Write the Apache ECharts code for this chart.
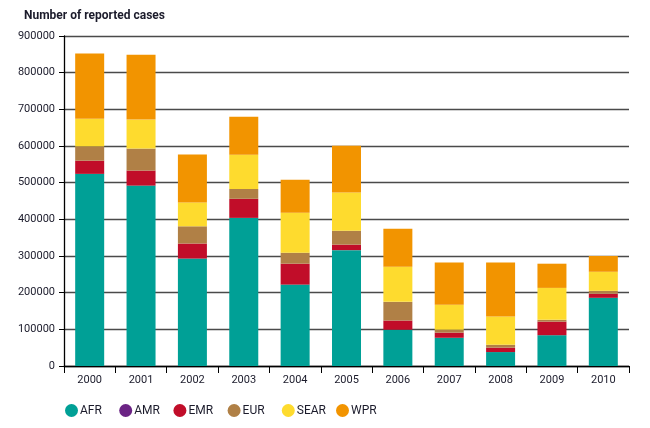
<!DOCTYPE html>
<html>
<head>
<meta charset="utf-8">
<script src="https://cdn.jsdelivr.net/npm/echarts@6/dist/echarts.min.js"></script>
<style>
html,body{margin:0;padding:0;background:#fff;}
#chart{width:650px;height:428px;}
</style>
</head>
<body>
<div id="chart"></div>
<script>
var years = ['2000','2001','2002','2003','2004','2005','2006','2007','2008','2009','2010'];
var regions = ['AFR','AMR','EMR','EUR','SEAR','WPR'];
var AFR  = [524000, 492000, 293000, 404000, 222000, 316000,  99000, 77000, 38000, 84000, 186000];
var AMR  = [0, 0, 0, 0, 0, 0, 0, 0, 0, 0, 0];
var EMR  = [ 36000,  41000,  41000,  52000,  57000,  15000,  25000, 14000, 12000, 37000,  11000];
var EUR  = [ 39000,  60000,  47000,  27000,  30000,  38000,  51000,  8000,  8000,  5000,   8000];
var SEAR = [ 75000,  79000,  65000,  93000, 109000, 104000,  96000, 68000, 77000, 87000,  52000];
var WPR  = [178000, 177000, 131000, 104000,  90000, 128000, 103000,115000,147000, 66000,  43000];
var yTicks = [0,100000,200000,300000,400000,500000,600000,700000,800000,900000];

var values = {AFR:AFR, AMR:AMR, EMR:EMR, EUR:EUR, SEAR:SEAR, WPR:WPR};
var colors = {AFR:'#00a096', AMR:'#6b2384', EMR:'#c10d29', EUR:'#b08046', SEAR:'#fedb2e', WPR:'#f29400'};

var font = 'Roboto, "DejaVu Sans", sans-serif';
var chart = echarts.init(document.getElementById('chart'), null, {renderer:'canvas'});

var series = regions.map(function(r){
  return {
    name: r, type: 'bar', stack: 'total', barWidth: 29,
    data: values[r],
    itemStyle: {color: colors[r]},
    emphasis: {disabled: true}
  };
});

var legends = regions.map(function(r, i){
  return {
    data: [{name: r, icon: 'circle'}],
    left: 65 + i*54.2, top: 404,
    itemWidth: 13, itemHeight: 13, padding: 0,
    textStyle: {fontFamily: font, fontSize: 12, color: '#1b1b2b', padding: [0,0,0,-3]},
    selectedMode: false
  };
});

chart.setOption({
  animation: false,
  backgroundColor: '#fff',
  title: {
    text: 'Number of reported cases', left: 19, top: 5,
    textStyle: {fontFamily: font, fontSize: 12, fontWeight: 'bold', color: '#1b1b2b'}
  },
  legend: legends,
  grid: {left: 64, right: 21, top: 36, bottom: 62, containLabel: false},
  xAxis: {
    type: 'category', data: years, boundaryGap: true,
    axisLine: {lineStyle: {color: '#000', width: 1.3}},
    axisTick: {show: true, length: 7, lineStyle: {color: '#000'}},
    axisLabel: {fontFamily: font, fontSize: 11, color: '#1b1b2b', margin: 9}
  },
  yAxis: {
    type: 'value', min: yTicks[0], max: yTicks[yTicks.length-1], interval: yTicks[1]-yTicks[0],
    axisLine: {show: true, lineStyle: {color: '#000', width: 1.3}},
    axisTick: {show: true, length: 5, lineStyle: {color: '#000'}},
    axisLabel: {fontFamily: font, fontSize: 11, color: '#1b1b2b', margin: 9,
      formatter: function(v){ return String(v); }},
    splitLine: {show: true, lineStyle: {color: '#4a4a4a', width: 1.4}}
  },
  series: series
});
</script>
</body>
</html>
